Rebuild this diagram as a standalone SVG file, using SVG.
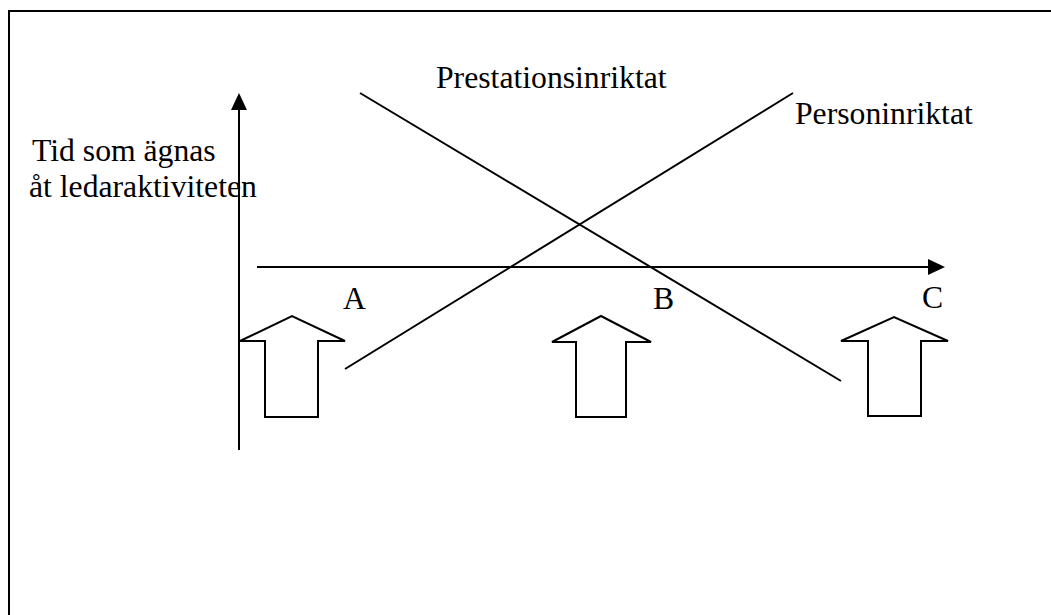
<svg xmlns="http://www.w3.org/2000/svg" width="1051" height="615" viewBox="0 0 1051 615">
<style>
.ln{stroke:#000;stroke-width:2;fill:none}
.ar{stroke:#000;stroke-width:2;fill:#fff;stroke-linejoin:miter}
.t{font-family:"Liberation Serif","Times New Roman",serif;font-size:31.7px;fill:#000}
</style>
<rect width="1051" height="615" fill="#fff"/>
<g id="frame">
<path class="ln" d="M9,615 V11 H1051" stroke-width="2.5"/>
</g>
<g id="connectors">
<line class="ln" x1="239" y1="450" x2="239" y2="110"/>
<polygon points="239,93 231,110 247,110" fill="#000"/>
<line class="ln" x1="257" y1="267" x2="928" y2="267"/>
<polygon points="945,267 928,259 928,275" fill="#000"/>
<line class="ln" x1="360" y1="93" x2="841" y2="381"/>
<line class="ln" x1="345" y1="369" x2="793" y2="93"/>
</g>
<g id="arrowA">
<polygon class="ar" points="240,341 292,316 345,341 318,341 318,417 265,417 265,341"/>
</g>
<g id="arrowB">
<polygon class="ar" points="552,342 601,316 651,342 626,342 626,417 576,417 576,342"/>
</g>
<g id="arrowC">
<polygon class="ar" points="841,341 894,317 948,341 921,341 921,416 868,416 868,341"/>
</g>
<g id="labels">
<text class="t" x="436" y="88">Prestationsinriktat</text>
<text class="t" x="795" y="124">Personinriktat</text>
<text class="t" x="32" y="161">Tid som ägnas</text>
<text class="t" x="29" y="197">åt ledaraktiviteten</text>
<text class="t" x="343" y="309">A</text>
<text class="t" x="653" y="309">B</text>
<text class="t" x="922" y="308">C</text>
</g>
</svg>
